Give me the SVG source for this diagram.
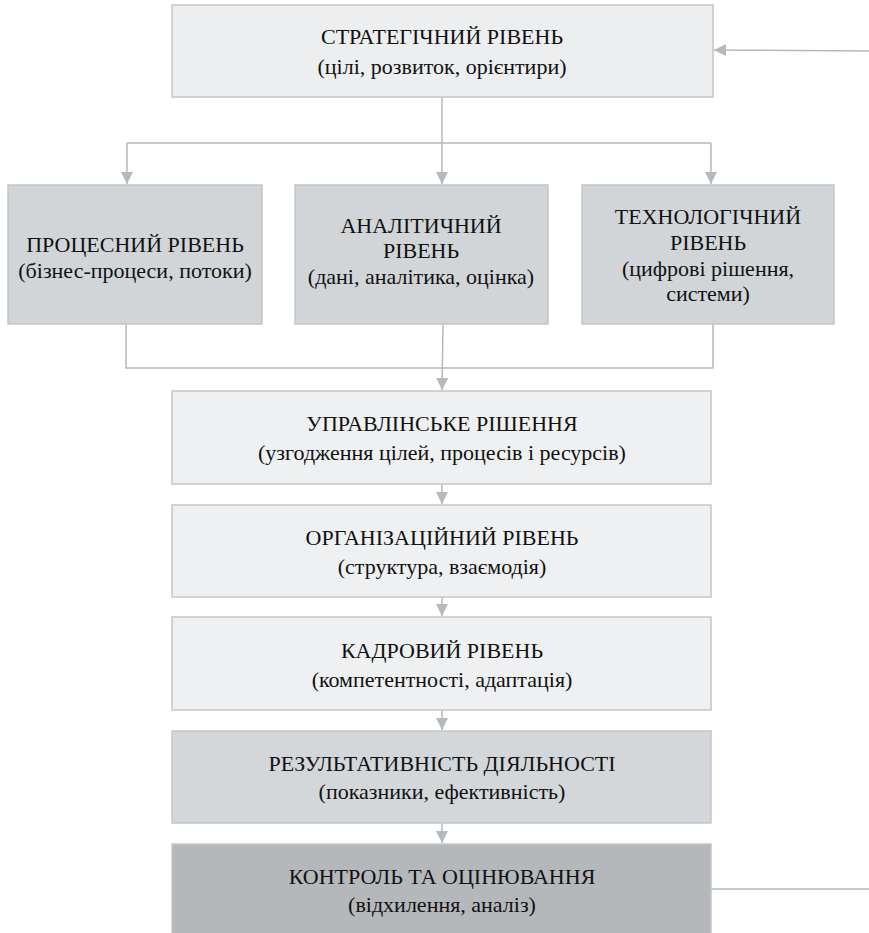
<svg xmlns="http://www.w3.org/2000/svg" width="869" height="933" viewBox="0 0 869 933" font-family="Liberation Serif, Times New Roman, serif">
<defs>
<style>
text{font-size:22px;fill:#111;text-anchor:middle}
.b{stroke:#c3c6c9;stroke-width:1.5}
.c{fill:none;stroke:#b5b9bc;stroke-width:1.5}
</style>
<marker id="ah2" viewBox="0 0 10 10" refX="10" refY="5" markerWidth="12" markerHeight="12" markerUnits="userSpaceOnUse" orient="auto"><path d="M0,0 L10,5 L0,10 z" fill="#b5b9bc"/></marker>
</defs>
<rect width="869" height="933" fill="#fff"/>
<g id="connectors">
<path class="c" d="M869,51 L714,50" marker-end="url(#ah2)"/>
<path class="c" d="M442,97 L442,143 M127,143 L711,143"/>
<path class="c" d="M127,143 L127,184" marker-end="url(#ah2)"/>
<path class="c" d="M442,143 L442,184" marker-end="url(#ah2)"/>
<path class="c" d="M711,143 L711,184" marker-end="url(#ah2)"/>
<path class="c" d="M126,324 L126,368 L713,368 L713,324"/>
<path class="c" d="M443,324 L442,390" marker-end="url(#ah2)"/>
<path class="c" d="M442,484 L442,504" marker-end="url(#ah2)"/>
<path class="c" d="M442,597 L442,616" marker-end="url(#ah2)"/>
<path class="c" d="M442,710 L442,730" marker-end="url(#ah2)"/>
<path class="c" d="M442,823 L442,843" marker-end="url(#ah2)"/>
<path class="c" d="M711,889 L869,889"/>
</g>
<g id="strategic">
<rect class="b" x="172" y="5" width="541" height="92" fill="#eceef0"/>
<text x="442" y="44">СТРАТЕГІЧНИЙ РІВЕНЬ</text>
<text x="442" y="74">(цілі, розвиток, орієнтири)</text>
</g>
<g id="process">
<rect class="b" x="8" y="185" width="254" height="139" fill="#d2d5d8"/>
<text x="135" y="252">ПРОЦЕСНИЙ РІВЕНЬ</text>
<text x="135" y="278">(бізнес-процеси, потоки)</text>
</g>
<g id="analytic">
<rect class="b" x="295" y="185" width="253" height="139" fill="#d2d5d8"/>
<text x="421" y="233">АНАЛІТИЧНИЙ</text>
<text x="421" y="258">РІВЕНЬ</text>
<text x="421" y="284">(дані, аналітика, оцінка)</text>
</g>
<g id="tech">
<rect class="b" x="582" y="185" width="252" height="139" fill="#d2d5d8"/>
<text x="708" y="224">ТЕХНОЛОГІЧНИЙ</text>
<text x="708" y="250">РІВЕНЬ</text>
<text x="708" y="276">(цифрові рішення,</text>
<text x="708" y="301">системи)</text>
</g>
<g id="decision">
<rect class="b" x="172" y="391" width="539" height="93" fill="#eef0f1"/>
<text x="442" y="431">УПРАВЛІНСЬКЕ РІШЕННЯ</text>
<text x="442" y="460">(узгодження цілей, процесів і ресурсів)</text>
</g>
<g id="org">
<rect class="b" x="172" y="505" width="539" height="92" fill="#eef0f1"/>
<text x="442" y="545">ОРГАНІЗАЦІЙНИЙ РІВЕНЬ</text>
<text x="442" y="574">(структура, взаємодія)</text>
</g>
<g id="hr">
<rect class="b" x="172" y="617" width="539" height="93" fill="#eef0f1"/>
<text x="442" y="658">КАДРОВИЙ РІВЕНЬ</text>
<text x="442" y="687">(компетентності, адаптація)</text>
</g>
<g id="results">
<rect class="b" x="172" y="731" width="539" height="92" fill="#d4d7da"/>
<text x="442" y="771">РЕЗУЛЬТАТИВНІСТЬ ДІЯЛЬНОСТІ</text>
<text x="442" y="799">(показники, ефективність)</text>
</g>
<g id="control">
<rect class="b" x="172" y="844" width="539" height="95" fill="#b5b8bb"/>
<text x="442" y="884">КОНТРОЛЬ ТА ОЦІНЮВАННЯ</text>
<text x="442" y="912">(відхилення, аналіз)</text>
</g>
</svg>
